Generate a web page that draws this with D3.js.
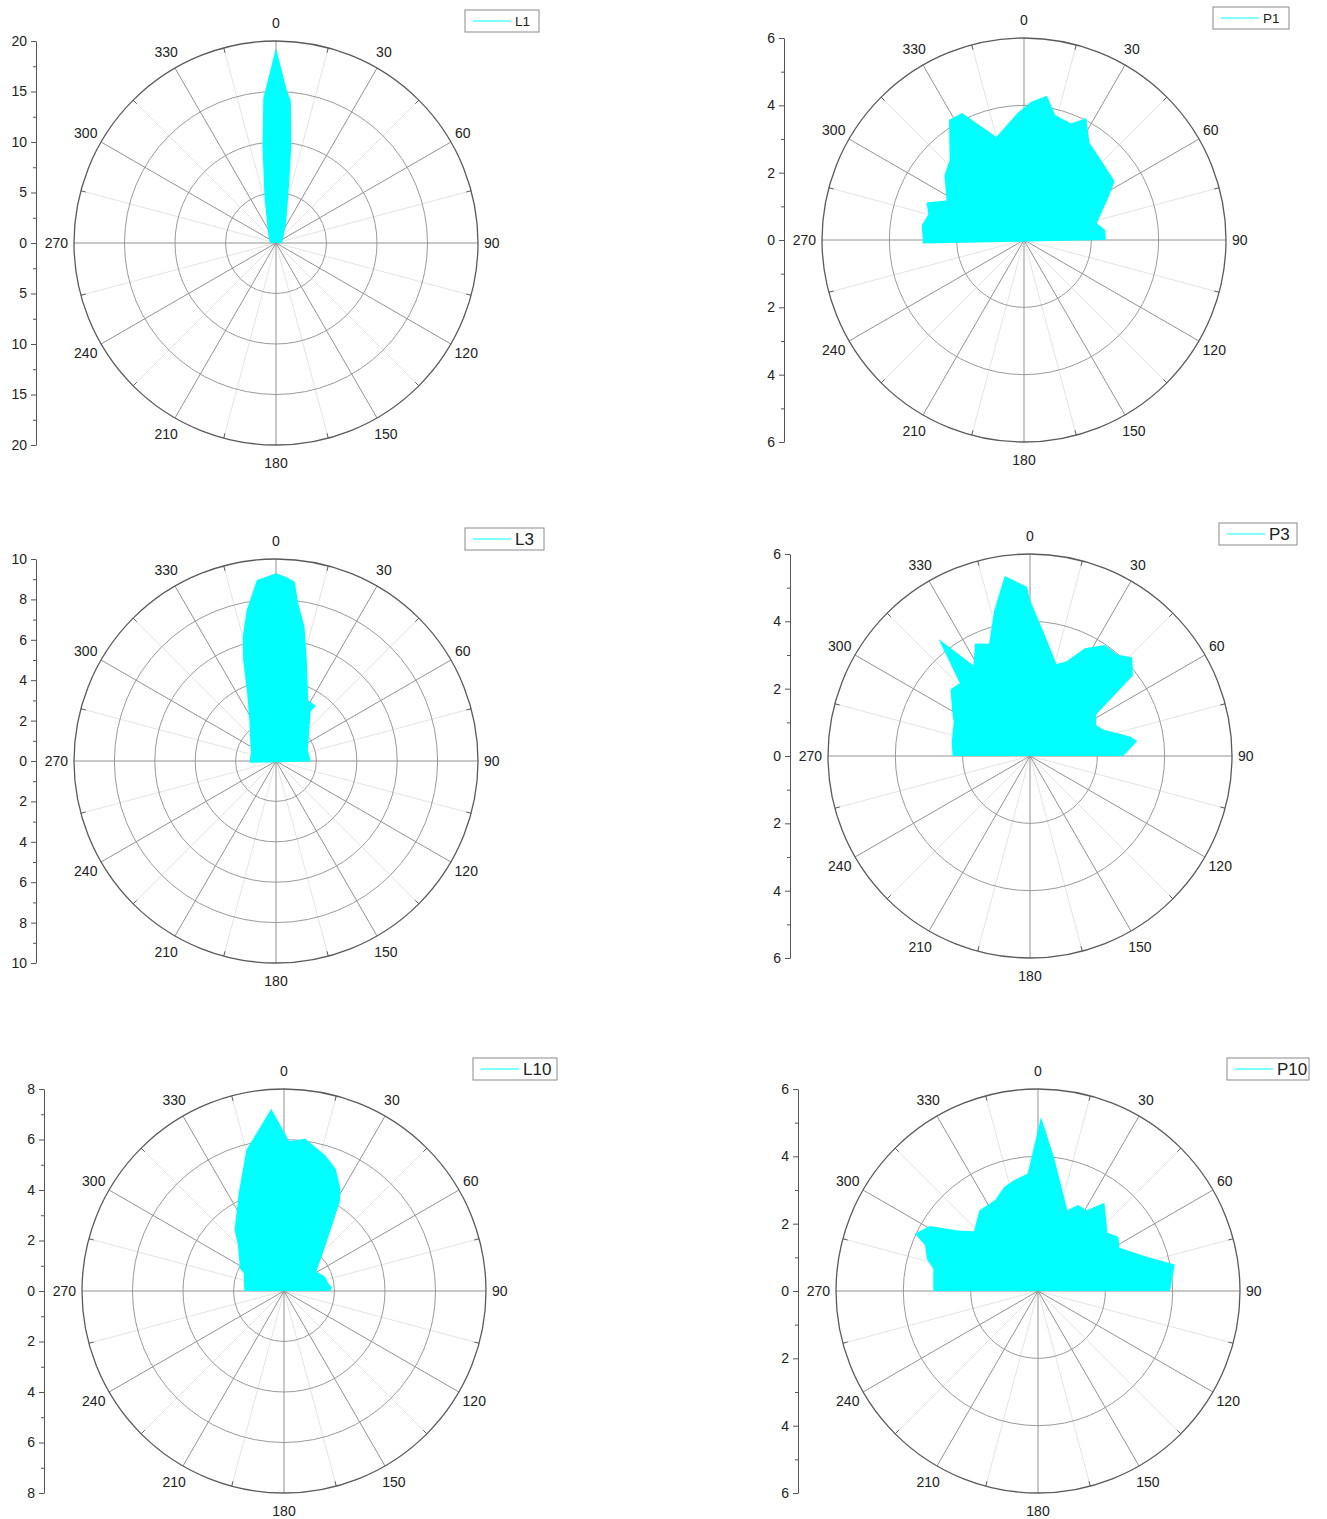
<!DOCTYPE html>
<html>
<head>
<meta charset="utf-8">
<script src="https://cdn.jsdelivr.net/npm/d3@7"></script>
<style>
  body { margin: 0; background: #fff; }
  svg { display: block; }
  text { font-family: "Liberation Sans", Arial, sans-serif; fill: #222; }
</style>
</head>
<body>
<svg id="chart" width="1327" height="1519"></svg>
<script>
// Polar direction labels (degrees, clockwise from north)
const angleLabels = [0, 30, 60, 90, 120, 150, 180, 210, 240, 270, 300, 330];

// Series L1
const l1Angles = [270, 300, 327, 346, 352, 355, 0, 4, 6, 9, 13, 27, 60, 90];
const l1Values = [0.6, 0.8, 1.5, 4.7, 9.6, 14.4, 19.3, 15.2, 14.1, 9.7, 5.7, 2.2, 0.8, 0.6];
const l1Ticks = [0, 5, 10, 15, 20];

// Series P1
const p1Angles = [268, 278, 285, 291, 297, 309, 317, 328, 334, 345, 357, 3, 9, 14, 22, 27, 34, 43, 57, 63, 77, 83, 90];
const p1Values = [3.0, 3.07, 2.94, 3.1, 2.58, 3.04, 3.24, 4.2, 4.2, 3.17, 3.77, 4.11, 4.34, 3.83, 3.73, 4.07, 3.48, 3.31, 3.21, 2.82, 2.22, 2.43, 2.43];
const p1Ticks = [0, 2, 4, 6];

// Series L3
const l3Angles = [266, 290, 307, 326, 337, 342, 345, 349, 352, 354, 357, 0, 3, 6, 8, 12, 17, 28, 36, 35, 50, 71, 91];
const l3Values = [1.32, 1.32, 1.6, 2.35, 3.65, 5.26, 6.37, 7.6, 8.39, 9.01, 9.14, 9.29, 9.14, 8.92, 7.89, 6.8, 5.22, 3.4, 3.37, 2.99, 2.14, 1.66, 1.73];
const l3Ticks = [0, 2, 4, 6, 8, 10];

// Series P3
const p3Angles = [270, 280, 294, 300, 310, 316, 322, 328, 334, 340, 346, 352, 359, 0, 7, 16, 21, 27, 34, 41, 46, 52, 58, 65, 70, 79, 82, 90];
const p3Values = [2.3, 2.36, 2.48, 2.67, 3.08, 3.0, 4.41, 3.17, 3.72, 3.55, 4.42, 5.4, 5.03, 4.63, 3.62, 2.84, 3.01, 3.59, 3.98, 3.98, 4.22, 3.88, 2.32, 2.17, 2.31, 3.02, 3.22, 2.77];
const p3Ticks = [0, 2, 4, 6];

// Series L10
const l10Angles = [270, 294, 297, 315, 321, 335, 345, 356, 2, 8, 17, 23, 29, 32, 41, 59, 71, 80, 86, 90];
const l10Values = [1.57, 1.75, 1.96, 2.58, 3.11, 4.25, 5.77, 7.24, 5.93, 6.09, 5.61, 5.25, 4.62, 4.17, 2.58, 1.5, 1.72, 1.78, 1.91, 1.82];
const l10Ticks = [0, 2, 4, 6, 8];

// Series P10
const p10Angles = [270, 282, 286, 292, 295, 301, 307, 313, 324, 335, 342, 348, 355, 1, 7, 20, 25, 31, 37, 50, 56, 62, 73, 79, 90];
const p10Values = [3.11, 3.18, 3.43, 3.62, 4.03, 3.75, 2.98, 2.6, 2.96, 2.99, 3.25, 3.37, 3.5, 5.17, 3.97, 2.55, 2.82, 2.8, 3.28, 2.69, 2.88, 2.74, 3.43, 4.14, 3.92];
const p10Ticks = [0, 2, 4, 6];

// Panel placement and styling
const panels = [
  { name: "L1",  angles: l1Angles,  values: l1Values,  ticks: l1Ticks,  cx: 276,  cy: 243,  legendW: 74, legendFont: 13.5 },
  { name: "P1",  angles: p1Angles,  values: p1Values,  ticks: p1Ticks,  cx: 1024, cy: 240,  legendW: 76, legendFont: 13.5 },
  { name: "L3",  angles: l3Angles,  values: l3Values,  ticks: l3Ticks,  cx: 276,  cy: 761,  legendW: 79, legendFont: 17 },
  { name: "P3",  angles: p3Angles,  values: p3Values,  ticks: p3Ticks,  cx: 1030, cy: 756,  legendW: 78, legendFont: 17 },
  { name: "L10", angles: l10Angles, values: l10Values, ticks: l10Ticks, cx: 284,  cy: 1291, legendW: 84, legendFont: 17 },
  { name: "P10", angles: p10Angles, values: p10Values, ticks: p10Ticks, cx: 1038, cy: 1291, legendW: 82, legendFont: 17 }
];

const R = 202;
const FILL = "#00ffff";
const LABEL_FONT = 14;
const svg = d3.select("#chart");
const rad = d => d * Math.PI / 180;

panels.forEach(p => {
  const max = d3.max(p.ticks);
  const step = p.ticks[1] - p.ticks[0];
  const r = d3.scaleLinear().domain([0, max]).range([0, R]);
  const g = svg.append("g").attr("transform", `translate(${p.cx},${p.cy})`);

  // faint minor spokes between the labelled directions
  g.append("g").selectAll("line").data(angleLabels.map(a => a + 15)).join("line")
    .attr("x1", 0).attr("y1", 0)
    .attr("x2", a => R * Math.sin(rad(a)))
    .attr("y2", a => -R * Math.cos(rad(a)))
    .attr("stroke", "#e4e4e4").attr("stroke-width", 1);

  // concentric rings
  g.append("g").selectAll("circle").data(p.ticks.filter(t => t > 0 && t < max)).join("circle")
    .attr("r", d => r(d)).attr("fill", "none")
    .attr("stroke", "#9a9a9a").attr("stroke-width", 1);

  // major spokes
  g.append("g").selectAll("line").data(angleLabels).join("line")
    .attr("x1", 0).attr("y1", 0)
    .attr("x2", a => R * Math.sin(rad(a)))
    .attr("y2", a => -R * Math.cos(rad(a)))
    .attr("stroke", "#929292").attr("stroke-width", 1);

  // filled radial area
  const pts = p.angles.map((a, i) => [a > 180 ? a - 360 : a, p.values[i]]);
  const area = d3.lineRadial()
    .angle(d => rad(d[0]))
    .radius(d => r(d[1]))
    .curve(d3.curveLinearClosed);
  g.append("path").datum(pts).attr("d", area).attr("fill", FILL).attr("stroke", "none");

  // outer circle with small ticks at the minor directions
  g.append("circle").attr("r", R).attr("fill", "none")
    .attr("stroke", "#5a5a5a").attr("stroke-width", 1.3);
  g.append("g").selectAll("line").data(angleLabels.map(a => a + 15)).join("line")
    .attr("x1", a => (R - 5) * Math.sin(rad(a)))
    .attr("y1", a => -(R - 5) * Math.cos(rad(a)))
    .attr("x2", a => R * Math.sin(rad(a)))
    .attr("y2", a => -R * Math.cos(rad(a)))
    .attr("stroke", "#5a5a5a").attr("stroke-width", 1);

  // direction labels, kept a fixed gap outside the rim
  g.append("g").selectAll("text").data(angleLabels).join("text")
    .attr("text-anchor", "middle")
    .attr("dominant-baseline", "central")
    .attr("font-size", LABEL_FONT)
    .text(a => a)
    .each(function (a) {
      const w = this.getComputedTextLength();
      d3.select(this)
        .attr("x", Math.sin(rad(a)) * (R + 6 + w / 2))
        .attr("y", -Math.cos(rad(a)) * (R + 18));
    });

  // symmetric radial scale on the left
  const y = d3.scaleLinear().domain([max, -max]).range([-R, R]);
  const major = Array.from(new Set(p.ticks.flatMap(t => [t, -t]))).sort((a, b) => a - b);
  const minor = p.ticks.slice(1).flatMap(t => [t - step / 2, -(t - step / 2)]);
  const axisG = g.append("g").attr("transform", "translate(-240,0)");
  axisG.append("g")
    .call(d3.axisLeft(y).tickValues(minor).tickSize(3).tickSizeOuter(0).tickFormat(""))
    .call(s => s.select(".domain").remove());
  axisG.append("g")
    .call(d3.axisLeft(y).tickValues(major).tickSize(5).tickSizeOuter(0).tickPadding(4).tickFormat(d => Math.abs(d)))
    .call(s => s.selectAll("text").attr("font-size", LABEL_FONT).attr("font-family", "Liberation Sans, Arial, sans-serif").attr("fill", "#222"));
  axisG.selectAll("line, path").attr("stroke", "#555");

  // legend
  const lg = g.append("g").attr("transform", "translate(189,-233)");
  lg.append("rect").attr("width", p.legendW).attr("height", 22)
    .attr("fill", "#fff").attr("stroke", "#8a8a8a").attr("stroke-width", 1);
  lg.append("line").attr("x1", 8).attr("x2", 46).attr("y1", 11).attr("y2", 11)
    .attr("stroke", FILL).attr("stroke-width", 1.2);
  lg.append("text").attr("x", 50).attr("y", 11).attr("dominant-baseline", "central")
    .attr("font-size", p.legendFont).text(p.name);
});
</script>
</body>
</html>
